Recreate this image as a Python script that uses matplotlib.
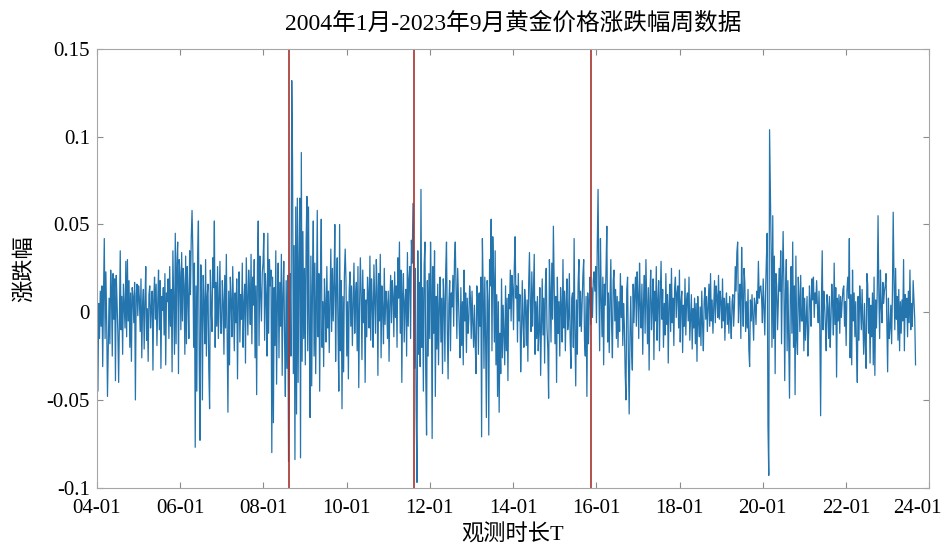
import numpy as np
import pandas as pd
import matplotlib
matplotlib.use('Agg')
import matplotlib.pyplot as plt
import matplotlib.dates as mdates
from matplotlib.transforms import ScaledTranslation

# 字体: 数字用 Times 类, 中文回退到 Noto Sans CJK
plt.rcParams['font.family'] = ['Liberation Serif', 'Noto Sans CJK SC']
plt.rcParams['axes.unicode_minus'] = False

title = '2004年1月-2023年9月黄金价格涨跌幅周数据'
x_label = '观测时长T'
y_label = '涨跌幅'

# 周涨跌幅 (%), 从图上估读, 每行约半年
weekly_change_pct = [
    # 2004
    2.5, -4.5, 0.5, -1.5, 1.2, -0.8, 1.5, -3.1, 0.9, 4.2, -1.5, 2.3, -0.6, -4.8, -2.1, 0.8, -1.8, 2.4, 1.1, -2.5, 2.2, -0.4, 1.9, -3.9, 2.1, 0.6,
    -1.2, -4.0, -0.3, 3.5, -1.0, 0.9, -2.4, 1.6, 0.3, -0.9, 2.9, -1.4, 3.0, -0.5, 1.8, -2.0, 1.1, -2.8, 1.4, 0.9, -0.6, 1.7, -5.0, 1.0, 1.6, -0.2,
    # 2005
    1.5, 0.8, -1.1, 1.9, -2.6, 0.4, 1.3, -2.1, 0.6, 2.6, -1.6, 0.2, -2.8, 1.0, 1.5, -0.9, 0.3, 1.2, -3.3, 0.7, 2.0, -0.4, 1.6, -1.9, 0.5, 2.4,
    -1.0, 1.8, -3.2, 0.9, 0.1, 1.4, -1.3, 2.2, -3.0, 1.1, 0.6, 1.9, -1.5, 2.6, -0.8, 1.3, -3.4, 3.5, 0.4, -2.4, 4.5, -1.8, 2.8, 4.0, -3.5, 3.0,
    # 2006
    2.2, -1.0, 3.4, -0.5, 2.5, 1.5, -2.4, 3.2, -1.8, 2.6, 0.8, -1.5, 3.5, 1.0, 4.2, 5.8, 3.5, -2.0, 2.8, -7.7, 1.5, -4.5, 3.2, 5.2, -2.6, -7.3,
    2.7, 1.2, -5.0, 2.1, 0.5, -1.8, 3.0, -2.5, 0.9, 1.6, -3.2, -5.5, 2.4, 0.2, -1.1, 3.1, 1.4, 5.2, -2.0, 1.7, -0.8, 2.6, -1.5, 0.6, 2.9, -1.2,
    # 2007
    -1.2, 1.8, 0.6, -2.4, 2.1, -0.9, 3.3, -1.5, -5.7, 1.2, -3.0, 2.0, 0.7, -1.4, 2.6, 0.3, -2.2, 1.1, -0.6, 1.9, -3.8, 0.8, 2.3, -1.7, 1.0, -0.4,
    2.8, -2.0, 0.5, 1.6, -2.9, 3.1, 0.9, -1.3, 2.4, 1.2, -0.7, 3.3, -1.8, 2.0, 0.4, 3.0, -2.6, 1.5, -4.7, 2.7, 5.2, -1.9, 3.2, 1.1, -0.5, 2.2,
    # 2008
    2.8, 4.5, -1.6, 2.2, 0.9, -2.5, 4.5, -1.2, 3.0, 1.5, 2.4, -8.0, 2.0, -6.3, 1.4, -1.9, 3.5, -4.1, 0.6, 2.8, -2.6, 1.7, -0.8, 3.3, -3.6, 1.0,
    2.9, -1.5, -4.8, 1.8, -3.2, 2.1, -8.5, -3.0, 2.2, -2.5, 13.2, 8.6, -3.5, 3.8, -8.4, 6.0, -5.8, 6.5, -4.0, 3.0, 6.5, -8.3, 9.1, -2.8, 4.6, -1.5,
    # 2009
    2.5, -3.0, 4.0, 6.6, -2.2, 6.0, -0.8, -6.0, 3.2, -4.2, 1.5, 5.2, -2.5, 2.8, -3.5, 0.8, 5.8, -1.4, 2.2, -4.5, 1.8, 5.3, -2.0, 0.6, -3.1, 1.9,
    0.4, -1.7, 2.6, -0.9, 1.2, -2.3, 0.8, 3.6, -1.1, 2.5, -0.5, 1.6, 5.0, -2.8, 1.3, 3.1, -1.0, -4.5, 5.0, -2.2, 1.8, -5.5, 0.9, -3.4, 2.1, 3.6,
    # 2010
    1.8, -2.5, 0.6, -3.8, 1.2, 2.3, -0.8, 1.5, -1.9, 0.4, 2.8, -1.2, 0.9, 1.7, -2.2, 2.6, -4.3, 0.3, 3.1, 1.0, -2.7, 2.4, -0.6, 1.3, -4.0, 0.7,
    -1.4, 2.0, 1.1, -0.9, 3.2, -1.6, 1.9, 0.5, -2.0, 2.7, 0.8, -1.2, 3.0, 1.4, -3.6, 2.2, -0.5, 3.3, -2.6, 1.5, 0.2, -1.8, 2.5, -0.7, 1.2, 0.6,
    # 2011
    -1.5, 1.2, -2.8, 0.5, 2.1, -0.6, 1.8, 0.9, -1.4, 2.3, -0.3, 1.5, -2.0, 3.1, 0.8, 4.0, -1.2, 2.4, -4.0, 1.0, 2.2, -1.7, 0.6, 1.3, -2.5, 3.4,
    -0.8, 1.9, 2.6, -1.5, 4.1, 2.8, 6.2, 0.5, -3.2, 2.5, -5.6, -9.7, 3.5, -2.4, 1.7, -3.1, 7.0, -2.0, 1.4, -4.5, 2.7, 4.0, -3.6, -7.0, 1.8, -2.5,
    # 2012
    2.2, -1.5, 4.0, 1.0, -7.2, 2.6, -1.2, 3.5, -4.8, 0.9, -2.1, 1.6, -3.0, 0.4, 2.0, -1.7, 0.8, -3.5, 1.9, 0.6, -2.8, 2.4, 4.0, -1.0, -3.8, 0.5,
    1.8, -2.2, 1.1, 0.3, 2.1, -0.8, 3.0, 4.0, 1.2, -1.5, 2.5, 0.7, -0.9, -2.6, 1.4, -1.9, 0.6, -3.0, 2.4, -0.5, 1.1, -2.3, 0.8, -1.2, -0.4, 1.5,
    # 2013
    0.8, -1.5, 1.2, -0.6, -2.0, 0.4, -1.8, -3.5, 1.5, 0.9, -2.4, 1.1, -0.8, 2.0, -7.1, 4.2, 1.2, -3.2, 2.0, -1.4, -6.0, 1.8, 0.6, -7.0, 3.0, 1.5,
    5.3, -2.2, 4.3, 2.1, -1.7, 3.5, -3.0, 1.0, -4.8, 0.6, -5.7, -1.2, -3.5, 1.9, -2.6, 0.4, -1.3, -3.0, 1.5, -2.2, 0.8, -3.9, 1.0, 0.2, 2.4, -0.5,
    # 2014
    2.1, 1.4, -1.0, 2.6, 4.3, 0.8, 1.5, -1.7, 2.2, -0.5, 1.0, -3.4, -1.2, 1.8, -0.6, -2.0, 1.3, 0.4, -1.9, 0.7, -2.8, 1.6, 3.4, 0.5, -1.1, 2.3,
    -0.8, 1.2, 3.3, -2.4, 0.6, -1.5, 0.9, -2.2, -1.0, 1.4, -3.6, -0.7, 1.9, -1.3, 0.8, -2.9, 1.5, 2.5, -0.9, -2.1, -4.9, 3.0, 1.2, -1.7, 2.8, -0.4,
    # 2015
    4.9, 1.5, -1.8, 0.9, -4.0, 2.0, -1.2, 0.6, -2.5, 1.4, 0.3, -1.7, 3.0, -0.9, 1.2, -2.2, 0.5, 1.9, -1.0, -0.4, 2.2, -1.5, -3.2, 0.8, 1.1, -2.0,
    4.2, -1.3, -4.2, 0.7, -2.4, 1.6, 3.0, -0.8, 1.2, -1.1, 0.4, 2.1, 3.0, -1.6, -2.5, 0.9, -4.8, 1.1, -1.8, 0.6, 2.0, -0.7, 1.4, -0.3, 1.8, 2.3,
    # 2016
    1.2, 2.6, -0.6, 3.8, 7.0, 1.5, -2.2, 4.2, 0.8, -1.4, 2.0, -3.0, 1.6, 0.4, 2.5, 4.9, -1.7, 1.1, -2.3, 0.7, 3.0, -0.8, -2.6, 1.8, 2.4, -0.5,
    1.3, -1.5, 0.9, -2.0, 0.6, -1.1, 2.2, -0.3, 1.5, -1.9, 0.5, -0.8, -3.5, -5.0, 1.3, 2.0, -2.6, -5.8, -1.4, 0.9, -2.2, -3.3, 1.6, -0.6, 1.2, 2.0,
    # 2017
    -0.8, 2.3, 1.0, -1.5, 2.8, 0.4, -0.9, 1.6, -2.4, 0.6, 2.1, -1.2, 3.0, 0.5, -1.8, 1.4, -3.3, 0.8, 2.4, -1.0, 0.3, 1.9, -2.7, 1.2, -0.5, 2.6,
    -1.6, 0.7, 1.8, -2.2, 0.9, 2.9, -0.4, 1.3, -2.0, 0.5, -1.3, 2.2, -0.7, 1.0, -2.9, 0.4, 1.6, -1.1, 2.5, -0.6, 0.8, -1.9, 1.4, 2.0, -0.3, 1.1,
    # 2018
    1.5, -0.9, 2.4, -1.7, 0.6, 1.2, -2.3, 0.4, -0.8, 1.9, -1.3, 0.7, 1.1, -0.5, 2.0, -1.6, -0.3, 1.0, -2.1, 0.2, -0.9, 0.8, -1.8, 0.5, -2.8, 0.9,
    -0.6, -1.4, 0.3, -1.9, 1.2, -0.7, -2.2, 0.6, 1.4, -0.4, 0.9, -1.1, 0.3, 1.6, -0.8, 2.2, -0.5, 0.7, -1.2, 0.4, 1.8, -0.6, 1.5, 0.9, -0.3, 2.1,
    # 2019
    -0.4, 1.2, 0.6, -0.9, 1.9, -0.5, 0.8, -1.6, 0.3, 1.1, -0.7, 0.5, -1.2, 0.9, -0.4, -1.5, 0.6, 1.0, -0.8, 0.4, 2.6, 1.2, 3.4, 4.0, -0.6, 0.8,
    1.6, -1.5, 3.7, 0.9, -0.8, 2.5, 1.7, -1.1, 0.6, -0.9, 1.3, -2.1, -3.1, 0.7, -0.5, 1.0, -0.3, -1.6, 0.8, 0.4, -0.7, 1.2, 0.5, 2.9, 0.8, 1.4,
    # 2020
    1.5, 0.8, -0.6, 1.9, 0.4, -1.3, 1.2, 3.0, 4.5, -6.5, -9.3, 10.4, 6.8, 3.5, -2.0, 5.5, -1.5, 3.2, -3.5, 2.2, 1.5, -1.0, 0.6, 2.5, 1.2, 3.5,
    -1.8, 2.0, 4.6, 1.5, -3.9, 1.2, 3.0, -2.2, 1.8, -1.5, -4.9, 0.9, 2.6, -1.2, 4.0, -2.0, 1.5, -4.7, 3.2, -1.6, -2.4, 2.0, 0.8, -1.1, 2.1, -0.5,
    # 2021
    -0.5, 1.4, -2.2, 0.8, -1.6, -0.4, 0.9, -2.5, -1.2, 1.5, 0.6, -0.8, 1.9, 0.7, 2.0, -0.3, 1.1, 0.5, 1.8, 0.3, -0.6, 1.2, -0.9, -5.9, 0.6, 3.5,
    -1.0, 1.2, 0.4, -0.8, -2.2, 1.0, 0.3, -1.5, 0.9, -2.0, -0.4, 1.6, 0.5, -1.3, 2.8, -0.7, 1.4, -3.7, 0.8, -0.5, 1.0, -1.2, 0.9, -0.3, 0.6, 1.3,
    # 2022
    1.5, -0.8, 0.6, -1.9, 1.2, 2.0, 0.8, 4.2, -2.6, 1.0, -3.0, 2.4, -0.5, 1.1, -1.4, 0.6, -2.1, -4.0, 0.9, -1.6, 1.5, 0.4, -1.0, 1.3, -0.6, -2.4,
    0.5, -1.8, -3.2, 2.2, 1.6, -1.2, 0.8, -2.9, 0.4, -1.4, 1.1, -3.0, 2.0, -3.6, 0.7, -0.9, 1.2, 5.5, 1.0, -1.5, 2.4, 0.3, -0.6, 1.7, 0.5, 1.2,
    # 2023 (至9月)
    1.5, 2.2, -0.6, -3.4, 0.8, -1.5, -0.9, 0.4, -1.8, 1.1, 5.7, 1.8, -1.0, 2.5, -0.4, 0.9, -1.6, 1.3, -2.2, 0.6,
    -1.2, 0.7, -0.5, 3.0, -2.2, 1.0, -0.3, 0.8, -1.4, 1.2, -0.6, 2.4, -1.0, 0.5, -0.8, 1.8, 0.7, -0.4, -3.0,
]

# 红色竖线: 三次冲击时点
shock_dates = ['2008-08-15', '2011-08-18', '2015-11-12']

x_tick_years = list(range(2004, 2025, 2))
y_ticks = [-0.1, -0.05, 0, 0.05, 0.1, 0.15]
y_tick_labels = ['-0.1', '-0.05', '0', '0.05', '0.1', '0.15']

dates = pd.date_range('2004-01-04', periods=len(weekly_change_pct), freq='7D')
change = np.array(weekly_change_pct) / 100

fig = plt.figure(figsize=(9.45, 5.5), dpi=100)
ax = fig.add_axes([0.1024, 0.1133, 0.8809, 0.7976])

ax.plot(dates, change, color='#2474ad', lw=0.9)
for d in shock_dates:
    ax.axvline(pd.Timestamp(d), color='#a8322d', lw=1.2)

ax.set_xlim(pd.Timestamp('2004-01-01'), pd.Timestamp('2024-01-01'))
ax.set_ylim(-0.1, 0.15)
ax.set_xticks([pd.Timestamp(f'{y}-01-01') for y in x_tick_years])
ax.xaxis.set_major_formatter(mdates.DateFormatter('%y-%m'))
ax.set_yticks(y_ticks)
ax.set_yticklabels(y_tick_labels)

ax.tick_params(direction='in', top=True, right=True, length=4, width=0.8,
               color='#8c8c8c', labelsize=15, labelcolor='black')
ax.tick_params(axis='x', pad=8)
ax.tick_params(axis='y', pad=5)
for s in ax.spines.values():
    s.set_color('#a6a6a6')
    s.set_linewidth(0.8)

# 最后一个刻度标签 (24-01) 往左挪一点, 免得出界
fig.canvas.draw()
last = ax.get_xticklabels()[-1]
last.set_transform(last.get_transform() + ScaledTranslation(-12 / 100, 0, fig.dpi_scale_trans))

ax.set_title(title, fontsize=17, pad=14)
ax.set_xlabel(x_label, fontsize=16, labelpad=5)
ax.set_ylabel(y_label, fontsize=16, labelpad=8)

fig.savefig('out.png', dpi=100)
